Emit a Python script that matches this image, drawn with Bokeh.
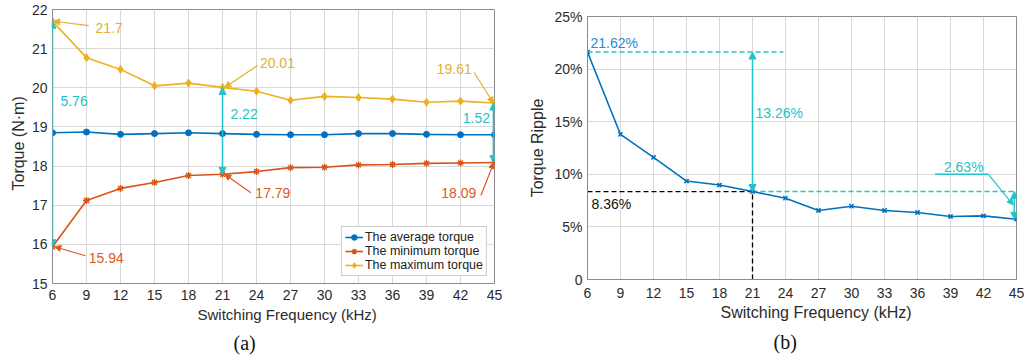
from bokeh.plotting import figure
from bokeh.models import Label, Arrow, NormalHead, FixedTicker, Range1d, Title
from bokeh.embed import file_html
from bokeh.resources import INLINE

# ---------------- data ----------------
freq = [6, 9, 12, 15, 18, 21, 24, 27, 30, 33, 36, 39, 42, 45]
avg_torque = [18.85, 18.87, 18.81, 18.83, 18.85, 18.83, 18.81, 18.80, 18.80, 18.83, 18.83, 18.81, 18.80, 18.80]
min_torque = [15.94, 17.12, 17.43, 17.58, 17.76, 17.79, 17.86, 17.96, 17.97, 18.03, 18.04, 18.07, 18.08, 18.09]
max_torque = [21.70, 20.77, 20.47, 20.05, 20.12, 20.01, 19.91, 19.68, 19.78, 19.75, 19.71, 19.63, 19.66, 19.61]
ripple = [21.62, 13.79, 11.60, 9.36, 8.98, 8.36, 7.73, 6.56, 6.97, 6.56, 6.37, 5.99, 6.05, 5.73]

torque_ticks = [15, 16, 17, 18, 19, 20, 21, 22]
ripple_ticks = [0, 5, 10, 15, 20, 25]
ripple_tick_labels = ["0", "5%", "10%", "15%", "20%", "25%"]

C_AVG = "#0072BD"
C_MIN = "#D95319"
C_MAX = "#EDB120"
C_CYAN = "#22C3C8"
C_MINTXT = "#DD5A22"
C_MAXTXT = "#E3B030"
FONT = "Liberation Sans"


def style(p):
    p.outline_line_color = "#8c8c8c"
    for ax in (p.xaxis[0], p.yaxis[0]):
        ax.axis_line_color = "#8c8c8c"
        ax.major_tick_line_color = None
        ax.minor_tick_line_color = None
        ax.major_tick_out = 0
        ax.major_tick_in = 0
        ax.minor_tick_out = 0
        ax.minor_tick_in = 0
        ax.major_label_text_font = FONT
        ax.major_label_text_font_size = "14px"
        ax.major_label_text_color = "#2b2b2b"
        ax.axis_label_text_font = FONT
        ax.axis_label_text_font_size = "15px"
        ax.axis_label_text_font_style = "normal"
        ax.axis_label_text_color = "#2b2b2b"
    p.grid.grid_line_color = "#d9d9d9"
    p.grid.grid_line_width = 1
    p.background_fill_color = "white"
    p.border_fill_color = "white"


def label(p, x, y, text, color, align="left", size="14px", font=FONT):
    p.add_layout(Label(x=x, y=y, text=text, text_color=color, text_font=font,
                       text_font_size=size, text_align=align, text_baseline="middle"))


def dbl_arrow(p, x0, y0, x1, y1, color):
    p.add_layout(Arrow(start=NormalHead(size=7, fill_color=color, line_color=color),
                       end=NormalHead(size=7, fill_color=color, line_color=color),
                       x_start=x0, y_start=y0, x_end=x1, y_end=y1,
                       line_color=color, line_width=1.5))


def text_arrow(p, x0, y0, x1, y1, color):
    p.add_layout(Arrow(end=NormalHead(size=6, fill_color=color, line_color=color),
                       x_start=x0, y_start=y0, x_end=x1, y_end=y1,
                       line_color=color, line_width=1.2))


def side_text(p, side, text, offset, standoff, font, size, color):
    p.add_layout(Title(text=text, align="left", offset=offset, standoff=standoff,
                       text_font=font, text_font_size=size,
                       text_font_style="normal", text_color=color), side)


# ---------------- panel (a) ----------------
p1 = figure(width=510, height=362, output_backend="svg", toolbar_location=None,
            x_range=Range1d(6, 45), y_range=Range1d(15, 22),
            min_border_left=52, min_border_right=16, min_border_top=9, min_border_bottom=79,
            styles={"position": "absolute", "left": "0px", "top": "0px"})
style(p1)
p1.xaxis.ticker = FixedTicker(ticks=freq)
p1.yaxis.ticker = FixedTicker(ticks=torque_ticks)
p1.xaxis.major_label_standoff = 6
p1.yaxis.major_label_standoff = 5

p1.line(freq, avg_torque, color=C_AVG, line_width=1.6, legend_label="The average torque")
p1.scatter(freq, avg_torque, marker="circle", size=6, color=C_AVG, legend_label="The average torque")
p1.line(freq, min_torque, color=C_MIN, line_width=1.6, legend_label="The minimum torque")
p1.scatter(freq, min_torque, marker="asterisk", size=7, line_color=C_MIN, line_width=1.3,
           legend_label="The minimum torque")
p1.line(freq, max_torque, color=C_MAX, line_width=1.6, legend_label="The maximum torque")
p1.scatter(freq, max_torque, marker="diamond", size=8, color=C_MAX, legend_label="The maximum torque")

lg = p1.legend[0]
lg.location = "bottom_right"
lg.margin = 7
lg.padding = 3
lg.spacing = 0
lg.label_text_font = FONT
lg.label_text_font_size = "12.5px"
lg.label_text_color = "#222222"
lg.label_height = 14
lg.glyph_height = 14
lg.glyph_width = 18
lg.label_standoff = 2
lg.border_line_color = "#9a9a9a"
lg.background_fill_alpha = 1.0

i6, i21, i45 = 0, 5, 13
dbl_arrow(p1, freq[i6], max_torque[i6], freq[i6], min_torque[i6], C_CYAN)
dbl_arrow(p1, freq[i21], max_torque[i21], freq[i21], min_torque[i21], C_CYAN)
dbl_arrow(p1, freq[i45] - 0.1, max_torque[i45], freq[i45] - 0.1, min_torque[i45], C_CYAN)

label(p1, 6.7, 19.67, "5.76", C_CYAN)
label(p1, 21.7, 19.34, "2.22", C_CYAN)
label(p1, 44.6, 19.24, "1.52", C_CYAN, align="right")

text_arrow(p1, 9.2, 21.59, freq[i6] + 0.1, max_torque[i6], C_MAXTXT)
label(p1, 9.8, 21.54, "21.7", C_MAXTXT)
text_arrow(p1, 24.1, 20.57, freq[i21] + 0.2, max_torque[i21], C_MAXTXT)
label(p1, 24.3, 20.64, "20.01", C_MAXTXT)
text_arrow(p1, 43.2, 20.39, freq[i45] - 0.1, max_torque[i45], C_MAXTXT)
label(p1, 43.0, 20.47, "19.61", C_MAXTXT, align="right")

text_arrow(p1, 8.9, 15.71, freq[i6] + 0.2, min_torque[i6], C_MINTXT)
label(p1, 9.2, 15.66, "15.94", C_MINTXT)
text_arrow(p1, 23.5, 17.32, freq[i21] + 0.2, min_torque[i21], C_MINTXT)
label(p1, 23.9, 17.3, "17.79", C_MINTXT)
text_arrow(p1, 43.8, 17.25, freq[i45] - 0.05, min_torque[i45], C_MINTXT)
label(p1, 43.4, 17.3, "18.09", C_MINTXT, align="right")

side_text(p1, "left", "Torque (N·m)", 93, 4, FONT, "16px", "#2b2b2b")
side_text(p1, "below", "Switching Frequency (kHz)", 145, 3, FONT, "15px", "#2b2b2b")
side_text(p1, "below", "(a)", 181, 11, "Liberation Serif", "20px", "#111111")

# ---------------- panel (b) ----------------
p2 = figure(width=522, height=362, output_backend="svg", toolbar_location=None,
            x_range=Range1d(6, 45), y_range=Range1d(0, 25),
            min_border_left=77, min_border_right=16, min_border_top=16, min_border_bottom=83,
            styles={"position": "absolute", "left": "510px", "top": "0px"})
style(p2)
p2.xaxis.ticker = FixedTicker(ticks=freq)
p2.yaxis.ticker = FixedTicker(ticks=ripple_ticks)
p2.yaxis.major_label_overrides = {t: s for t, s in zip(ripple_ticks, ripple_tick_labels)}
p2.yaxis.axis_label = "Torque Ripple"
p2.yaxis.axis_label_text_font_size = "16px"
p2.xaxis.major_label_standoff = 8
p2.yaxis.major_label_standoff = 5
p2.yaxis.axis_label_standoff = 5

r0 = ripple[0]
r21 = ripple[5]
r45 = ripple[13]

# reference lines
p2.line([freq[0], 23.8], [r0, r0], color=C_CYAN, line_width=1.5, line_dash="5 3")
p2.line([freq[5], 45.5], [r21, r21], color=C_CYAN, line_width=1.5, line_dash="5 3")
p2.line([freq[0], freq[5]], [r21, r21], color="black", line_width=1.3, line_dash="5 3")
p2.line([freq[5], freq[5]], [0, r21], color="black", line_width=1.3, line_dash="5 3")

p2.line(freq, ripple, color=C_AVG, line_width=1.6)
p2.scatter(freq, ripple, marker="x", size=6, line_color=C_AVG, line_width=1.5)

dbl_arrow(p2, freq[5], r0, freq[5], r21, C_CYAN)
dbl_arrow(p2, freq[13] - 0.2, r21, freq[13] - 0.2, r45, C_CYAN)

label(p2, 6.27, 22.5, "21.62%", "#2A8AD0")
label(p2, 21.27, 15.8, "13.26%", C_CYAN)
label(p2, 6.36, 7.2, "8.36%", "#111111")
label(p2, 38.4, 10.65, "2.63%", C_CYAN)
p2.line([37.6, 42.45], [10.0, 10.0], color=C_CYAN, line_width=1.5)
text_arrow(p2, 42.45, 10.0, 44.7, 7.1, C_CYAN)

side_text(p2, "below", "Switching Frequency (kHz)", 133, 3, FONT, "16px", "#2b2b2b")
side_text(p2, "below", "(b)", 186, 12, "Liberation Serif", "20px", "#111111")

open("out.html", "w").write(file_html([p1, p2], INLINE))
